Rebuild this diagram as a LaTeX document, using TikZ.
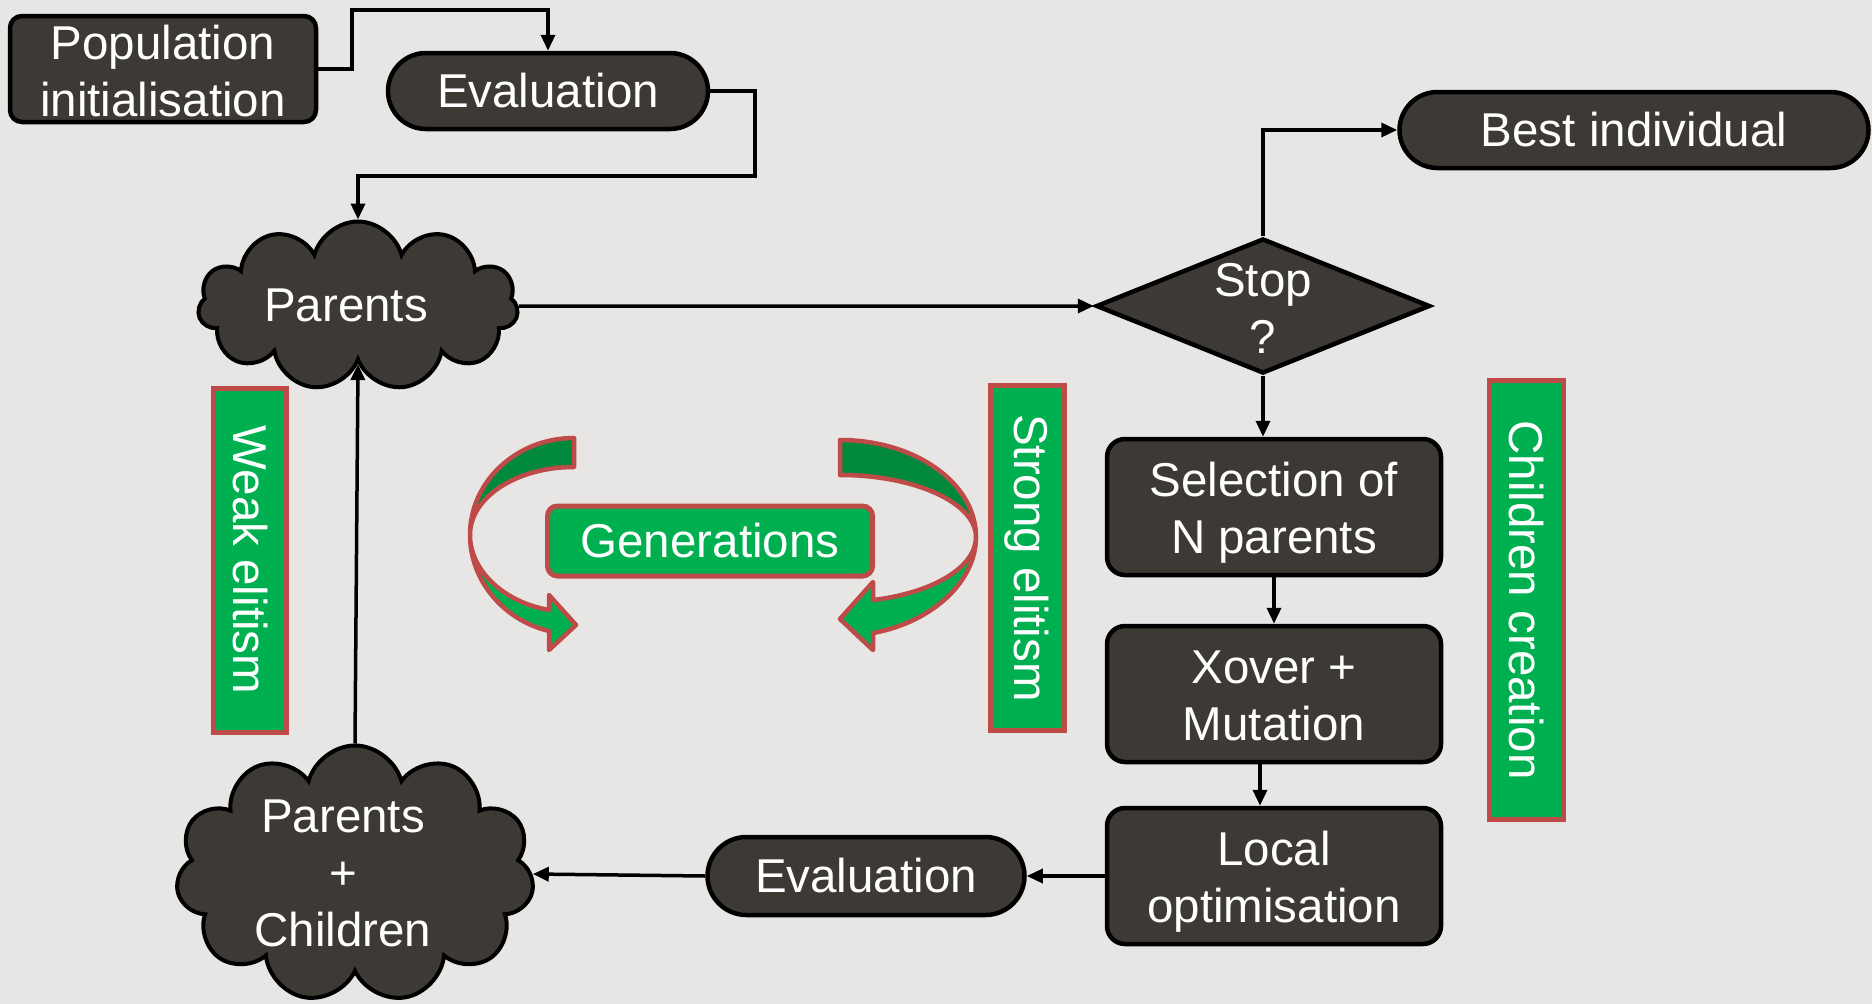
\documentclass[tikz,border=0pt]{standalone}
\usepackage{fontspec}
\setmainfont{Liberation Sans}
\usetikzlibrary{shapes.misc,shapes.geometric,shapes.symbols,arrows.meta}
\definecolor{bg}{RGB}{232,230,228}
\definecolor{dk}{RGB}{61,57,53}
\definecolor{gr}{RGB}{0,176,80}
\definecolor{dgr}{RGB}{0,137,61}
\definecolor{rd}{RGB}{190,75,72}
\begin{document}
\begin{tikzpicture}[x=1pt,y=-1pt,
  txt/.style={text=white,font=\fontsize{47.5}{57}\selectfont,align=center},
  box/.style={draw=black,line width=4.5pt,fill=dk,rounded corners=18pt,minimum width=334pt,minimum height=136pt,inner sep=0pt},
  pill/.style={rounded rectangle,draw=black,line width=4.5pt,fill=dk,inner sep=0pt,txt},
  cloudy/.style={cloud,cloud puffs=11,cloud ignores aspect,draw=black,line width=4pt,fill=dk,inner sep=0pt},
  glabel/.style={draw=rd,line width=5pt,fill=gr,inner sep=0pt,txt},
  conn/.style={line width=3.5pt,-{Triangle[length=16pt,width=14pt]}},
  ribbon/.style={draw=rd,line width=4.5pt,line join=round}
]
\useasboundingbox[fill=bg] (0,0) rectangle (1872,1004);

% nodes
\node[box,rounded corners=12pt,minimum width=306pt,minimum height=106pt] (pop) at (163,69) {};
\node[txt] (poptxt) at ([yshift=-2pt]pop.center) {Population\\initialisation};
\node[pill,minimum width=320pt,minimum height=76pt] (ev1) at (548,91) {Evaluation};
\node[cloudy,minimum width=320pt,minimum height=169pt] (par) at (358,306) {};
\node[txt] (partxt) at (346,305) {Parents};
\node[diamond,draw=black,line width=4.5pt,fill=dk,minimum width=334pt,minimum height=135pt,inner sep=0pt] (stop) at (1263,306) {};
\node[txt] (stoptxt) at (1263,308) {Stop\\?};
\node[pill,minimum width=469pt,minimum height=76pt] (best) at (1634,130) {Best individual};
\node[box] (sel) at (1274,507) {};
\node[txt] (seltxt) at ([yshift=-6pt]sel.center) {Selection of\\N parents};
\node[box] (xo) at (1274,694) {};
\node[txt] (xotxt) at ([yshift=-2pt]xo.center) {Xover +\\Mutation};
\node[box] (loc) at (1274,876) {};
\node[txt] (loctxt) at ([yshift=-6pt]loc.center) {Local\\optimisation};
\node[pill,minimum width=317pt,minimum height=78pt] (ev2) at (866,876) {Evaluation};
\node[cloudy,minimum width=358pt,minimum height=257pt] (pc) at (355,874) {};
\node[txt] (pctxt) at (343,873) {Parents\\+\\Children};

% green labels
\node[glabel,rotate=-90,minimum width=344pt,minimum height=73pt] (weak) at (250,560) {Weak elitism};
\node[glabel,rotate=-90,minimum width=345pt,minimum height=74pt] (strong) at (1027,558) {Strong elitism};
\node[glabel,rotate=-90,minimum width=439pt,minimum height=74pt] (child) at (1526,600) {Children creation};
\node[glabel,rounded corners=10pt,minimum width=325pt,minimum height=70pt] (gen) at (710,541) {Generations};

% curved arrows
\draw[ribbon,fill=dgr] (574,438) .. controls (517,438) and (470,481) .. (470,535) .. controls (470,497) and (517,467) .. (574,467) -- cycle;
\draw[ribbon,fill=gr] (470,535) .. controls (470,580) and (503,620) .. (549,631) -- (549,650) -- (576,625) -- (549,595) -- (549,610) .. controls (503,602) and (470,570) .. (470,535) -- cycle;
\draw[ribbon,fill=dgr] (840,440) .. controls (915,440) and (976,483) .. (976,537) .. controls (976,503) and (915,475) .. (840,475) -- cycle;
\draw[ribbon,fill=gr] (976,537) .. controls (976,581) and (933,622) .. (873,633) -- (873,650) -- (840,619) -- (873,582) -- (873,600) .. controls (933,593) and (976,567) .. (976,537) -- cycle;

% connectors
\draw[conn] (pop.east) -- (352,69) -- (352,10) -| (ev1.north);
\draw[conn] (ev1.east) -- (755,91) -- (755,176) -| (par.north);
\draw[conn] (par.east) -- (stop.west);
\draw[conn] (stop.north) |- (best.west);
\draw[conn] (stop.south) -- (stop.south |- sel.north);
\draw[conn] (sel.south) -- (xo.north);
\draw[conn] ([xshift=-14pt]xo.south) -- ([xshift=-14pt]loc.north);
\draw[conn] (loc.west) -- (ev2.east);
\draw[conn] (ev2.west) -- (pc.east);
\draw[conn] (pc.north) -- (par.south);
\end{tikzpicture}
\end{document}
